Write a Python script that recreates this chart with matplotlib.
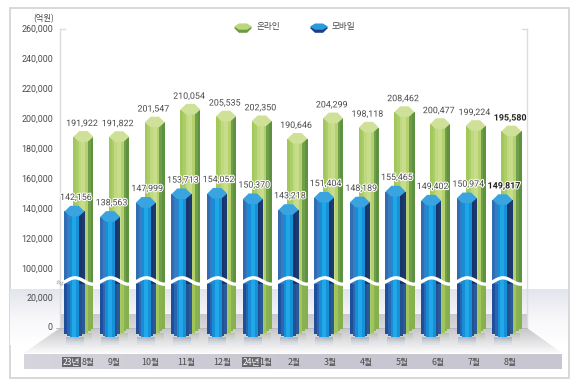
# 온라인 / 모바일 월별 거래액 (3D 기둥 느낌으로)
import numpy as np
import matplotlib
matplotlib.use('Agg')
import matplotlib.pyplot as plt
import matplotlib.patheffects as pe
from matplotlib.colors import LinearSegmentedColormap
from matplotlib.patches import Polygon, Rectangle

months = ['8월', '9월', '10월', '11월', '12월', '1월', '2월', '3월', '4월', '5월', '6월', '7월', '8월']
online = [191922, 191822, 201547, 210054, 205535, 202350, 190646, 204299, 198118, 208462, 200477, 199224, 195580]
mobile = [142156, 138563, 147999, 153713, 154052, 150370, 143218, 151404, 148189, 155465, 149402, 150974, 149817]
ticks = [0, 20000, 100000, 120000, 140000, 160000, 180000, 200000, 220000, 240000, 260000]

plt.rcParams['font.family'] = ['Roboto', 'Noto Sans CJK KR', 'DejaVu Sans']

W, H = 582, 391
TXT = '#4a4a4a'
KR = ['Noto Sans CJK KR', 'DejaVu Sans']


# 축 생략 구간: 20,000 위쪽은 100,000으로 건너뜀
def forward(v):
    v = np.asarray(v, dtype=float)
    return np.where(v <= 20000, v*0.0015, np.where(v >= 100000, 59+(v-100000)*0.0015, 30+(v-20000)*29/80000))


def inverse(p):
    p = np.asarray(p, dtype=float)
    return np.where(p <= 30, p/0.0015, np.where(p >= 59, 100000+(p-59)/0.0015, 20000+(p-30)*80000/29))


fig = plt.figure(figsize=(W/100, H/100), dpi=100)

# 배경 (픽셀 좌표)
bg = fig.add_axes([0, 0, 1, 1], zorder=0)
bg.set_xlim(0, W)
bg.set_ylim(H, 0)
bg.axis('off')
bg.add_patch(Rectangle((9.5, 8), 559.5, 370, fc='white', ec='#d2d2d2', lw=1.2))
grad = np.linspace(0, 1, 40)[:, None]
cm_back = LinearSegmentedColormap.from_list('b', ['#e3e5ed', '#f7f7fa', '#ffffff'])
bg.imshow(grad, extent=(10, 568, 345, 289), cmap=cm_back, aspect='auto', zorder=1)
cm_wall = LinearSegmentedColormap.from_list('w', ['#cacace', '#d8d8dc'])
bg.imshow(grad, extent=(60, 527, 328, 314), cmap=cm_wall, aspect='auto', zorder=2)
cm_floor = LinearSegmentedColormap.from_list('f', ['#c6c6ca', '#fafafb'])
im = bg.imshow(grad, extent=(24, 562, 353, 328), cmap=cm_floor, aspect='auto', zorder=2)
im.set_clip_path(Polygon([(60, 328), (527, 328), (562, 353), (24, 353)], transform=bg.transData))
cm_strip = LinearSegmentedColormap.from_list('s', ['#d6d5dd', '#c8c7d1', '#c8c7d1'])
bg.imshow(np.linspace(0, 1, 60)[None, :], extent=(24, 562, 369, 354), cmap=cm_strip, aspect='auto', zorder=2)
for x, tick_x in [(60, 65), (527, 522)]:
    bg.plot([x, x], [29, 328], color='#dcdcdc', lw=1, zorder=3)
    bg.plot([x, tick_x], [29, 29], color='#dcdcdc', lw=1, zorder=3)
bg.plot([56, 527], [328, 328], color='#b8b8bc', lw=0.6, zorder=3)
bg.set_xlim(0, W)
bg.set_ylim(H, 0)

# 막대 축
ax = fig.add_axes([0, 0, 1, 1], zorder=1)
ax.patch.set_alpha(0)
ax.set_yscale('function', functions=(forward, inverse))
ax.set_xlim((0-74.5)/35.67, (W-74.5)/35.67)
zero_px = H-328
ax.set_ylim(-zero_px/0.0015, 100000+(H-zero_px-59)/0.0015)
ax.axis('off')

BW = 20/35.67
fx = np.array([-1, -0.72, -0.48, -0.2, 0.2, 0.48, 0.72, 1.0])
green_top = ['#a2c85c', '#acce68', '#c0d880', '#c8dd8c', '#b4d16e', '#6f9f4a', '#5f9240']
green_low = ['#9cc45a', '#a0c65a', '#a6ca60', '#a6ca60', '#a0c65a', '#8ab252', '#86b04e']
blue_top = ['#2f6db5', '#3a7cc2', '#188cd4', '#1ea6e6', '#1690d6', '#1b3468', '#1c3a72']
blue_low = ['#1e4f9c', '#2a66b0', '#188cd4', '#20a8e8', '#1690d6', '#24528f', '#2a5a9c']
cap_x = np.array([-1, -0.42, 0.42, 1, 0.42, -0.42])
cap_d = np.array([3800, 0, 0, 3800, 7100, 7100])
CUT = 60000


def column(x, v, base, top_cols, low_cols, cap_col, z, shadow):
    # 바닥 반사
    for k, a in enumerate([0.22, 0.14, 0.08, 0.04]):
        ax.bar(x, -1400, BW*0.9, bottom=base-k*1400, color=shadow, alpha=a, lw=0, zorder=z-0.5)
    for j in range(len(top_cols)):
        x0 = x+fx[j]*BW/2
        x1 = x+fx[j+1]*BW/2
        # 아래쪽은 모서리가 살짝 깎인 모양
        edge = abs(fx[j]+fx[j+1])/2
        b = base+1500*max(0, edge-0.42)/0.58*2
        ax.bar((x0+x1)/2, CUT-b, x1-x0+0.004, bottom=b, color=low_cols[j], lw=0, zorder=z)
        ax.bar((x0+x1)/2, v-3800-CUT, x1-x0+0.004, bottom=CUT, color=top_cols[j], lw=0, zorder=z)
    ax.add_patch(Polygon(np.column_stack([x+cap_x*BW/2, v-cap_d]), fc=cap_col, ec='none', zorder=z+0.1))


for i in range(len(months)):
    column(i+0.25, online[i], -3000, green_top, green_low, '#cfe098', 2+i*0.01, '#7a9a50')
for i in range(len(months)):
    column(i, mobile[i], -6000, blue_top, blue_low, '#3aa4e0', 3+i*0.01, '#30508c')

halo = [pe.withStroke(linewidth=1.5, foreground='white')]
for i in range(len(months)):
    last = i == len(months)-1
    w = 'bold' if last else 'normal'
    c = '#222222' if last else TXT
    ax.annotate(f'{online[i]:,}', (i+0.25, online[i]), xytext=(-1, 5.5), textcoords='offset points',
                ha='center', va='center', fontsize=6.4, color=c, fontweight=w, zorder=6, path_effects=halo)
    ax.annotate(f'{mobile[i]:,}', (i, mobile[i]), xytext=(1, 6), textcoords='offset points',
                ha='center', va='center', fontsize=6.4, color=c, fontweight=w, zorder=6, path_effects=halo)

for t in ticks:
    ax.annotate(f'{t:,}', (53/W, t), xycoords=ax.get_yaxis_transform(), annotation_clip=False,
                ha='right', va='center', fontsize=6.4, color=TXT)

# 위에 올리는 것들 (픽셀 좌표)
top = fig.add_axes([0, 0, 1, 1], zorder=2)
top.patch.set_alpha(0)
top.set_xlim(0, W)
top.set_ylim(H, 0)
top.axis('off')

wx = np.linspace(64, 524, 500)
wy = 281-3.2*np.cos((wx-75)*2*np.pi/35.67)
top.plot(wx, wy, color='white', lw=2.4, zorder=5)
sq = np.linspace(57, 63, 20)
top.plot(sq, 282-1.2*np.sin((sq-57)*2*np.pi/6), color='#b0b0b0', lw=0.6, zorder=5)
top.plot(sq, 284-1.2*np.sin((sq-57)*2*np.pi/6), color='#b0b0b0', lw=0.6, zorder=5)

top.text(44, 19, '(억원)', ha='center', va='center', fontsize=6, color=TXT, family=KR)

leg_cap = np.array([[-1, 0], [-0.45, -0.7], [0.45, -0.7], [1, 0], [0.45, 0.8], [-0.45, 0.8]])
for cx, col, dark, label, tx in [(243, '#bcd67a', '#6a9c48', '온라인', 257), (319, '#2a9ade', '#1c3f86', '모바일', 332)]:
    top.add_patch(Polygon(leg_cap*[9, 6]+[cx, 28], fc=dark, ec='none'))
    top.add_patch(Polygon(leg_cap*[9, 4]+[cx, 26.5], fc=col, ec='none'))
    top.text(tx, 27, label, ha='left', va='center', fontsize=6.2, color=TXT, family=KR)

label_x = [88, 114, 150, 186, 222, 266, 294, 330, 366, 402, 438, 474, 510]
for x, m in zip(label_x, months):
    top.text(x, 362, m, ha='center', va='center', fontsize=6.4, color=TXT, family=KR)
for x, y in [(71.5, '23년'), (251.5, '24년')]:
    top.text(x, 362, y, ha='center', va='center', fontsize=6.2, color='white', family=KR,
             bbox=dict(boxstyle='square,pad=0.1', fc='#66666c', ec='none'))

fig.savefig('out.png', dpi=100)
